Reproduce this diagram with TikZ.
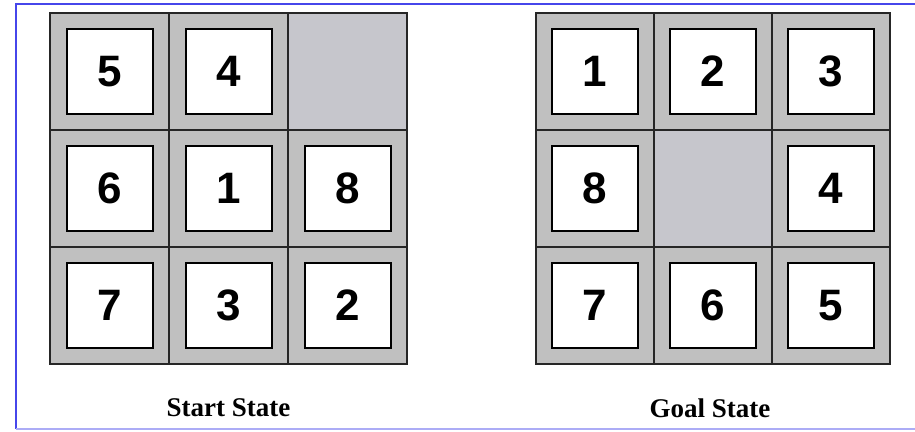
\documentclass[tikz,border=0pt]{standalone}
\usepackage{fontspec}
\setmainfont{Liberation Serif}
\newfontfamily\tilefont{Liberation Sans}
\usetikzlibrary{positioning}
\definecolor{frameblue}{RGB}{70,70,235}
\definecolor{cellgray}{RGB}{192,192,192}
\definecolor{holegray}{RGB}{198,198,204}
\tikzset{
  cell/.style={rectangle,draw=black!85,line width=1.2pt,fill=cellgray,
    minimum width=119pt,minimum height=117pt,inner sep=0pt},
  hole/.style={cell,fill=holegray},
  tile/.style={rectangle,draw=black,line width=2pt,fill=white,
    minimum width=86pt,minimum height=85pt,inner sep=0pt,
    font=\tilefont\bfseries\fontsize{44}{44}\selectfont},
  caption/.style={font=\bfseries\fontsize{27}{27}\selectfont}
}

\begin{document}
\begin{tikzpicture}[x=1pt,y=-1pt]
  \useasboundingbox (0,0) rectangle (915,431);
  \fill[white] (0,0) rectangle (915,431);
  % frame, open on the right
  \draw[frameblue,line width=1.5pt] (916,4) -- (16,4) -- (16,429);
  \draw[frameblue!45,line width=1.5pt] (16,429) -- (916,429);
  % start state
  \foreach \v [count=\k from 0] in {5,4,0,6,1,8,7,3,2} {
    \pgfmathtruncatemacro\row{int(\k/3)}
    \pgfmathtruncatemacro\col{mod(\k,3)}
    \ifnum\v=0
      \node[hole] (s\k) at ({109.5+119*\col},{71.5+117*\row}) {};
    \else
      \node[cell] (s\k) at ({109.5+119*\col},{71.5+117*\row}) {};
      \node[tile] (st\k) at (s\k) {\v};
    \fi
  }
  % goal state
  \foreach \v [count=\k from 0] in {1,2,3,8,0,4,7,6,5} {
    \pgfmathtruncatemacro\row{int(\k/3)}
    \pgfmathtruncatemacro\col{mod(\k,3)}
    \ifnum\v=0
      \node[hole,minimum width=118pt] (g\k) at ({595+118*\col},{71.5+117*\row}) {};
    \else
      \node[cell,minimum width=118pt] (g\k) at ({595+118*\col},{71.5+117*\row}) {};
      \node[tile] (gt\k) at (g\k) {\v};
    \fi
  }
  \node[caption] (startcap) at (228.5,408) {Start State};
  \node[caption] (goalcap) at (710,408) {Goal State};
\end{tikzpicture}
\end{document}
